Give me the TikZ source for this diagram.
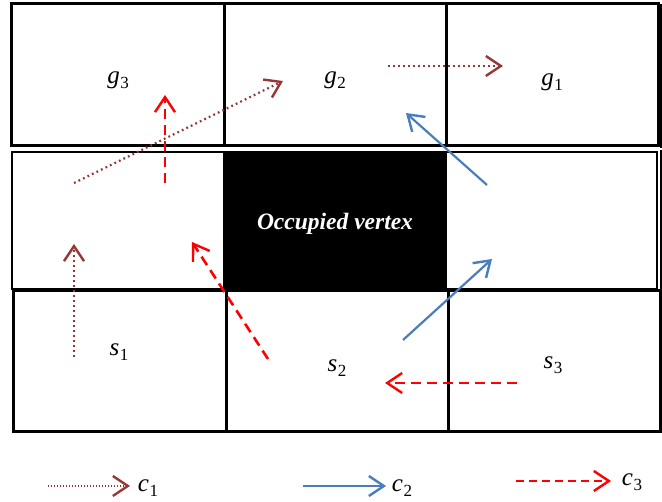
\documentclass[tikz,border=0pt]{standalone}
\usepackage{fontspec}
\setmainfont{Liberation Serif}
\usetikzlibrary{arrows.meta}
\definecolor{cbrown}{HTML}{953735}
\definecolor{cblue}{HTML}{4A7EBB}
\definecolor{cred}{HTML}{FF0000}
\newcommand{\lab}[2]{{\fontsize{25}{28}\selectfont\itshape #1}\kern0.5pt\raisebox{-5pt}{\fontsize{17}{20}\selectfont #2}}
\tikzset{
  grid/.style={draw=black, line width=3pt},
  lbl/.style={inner sep=0pt},
  tip/.style={-{Straight Barb[length=15pt,width=20pt,line width=2.4pt]}},
  cone/.style={tip, draw=cbrown, line width=2.2pt, dash pattern=on 1.8pt off 3.2pt},
  ctwo/.style={tip, draw=cblue, line width=2.2pt},
  cthree/.style={tip, draw=cred, line width=2.6pt, dash pattern=on 10pt off 6pt},
}
\begin{document}
\begin{tikzpicture}[x=1pt,y=-1pt]
\useasboundingbox[fill=white] (0,0) rectangle (662,502);
% rows
\draw[grid] (11,4) rectangle (658,146);
\draw[grid] (224,4) -- (224,146);
\draw[grid] (446,4) -- (446,146);
\draw[line width=3pt] (661,4) -- (661,148);
\draw[grid, line width=2pt] (12,152) rectangle (657,289);
\fill[black] (223,152) rectangle (447,289);
\draw[line width=3pt] (661,150) -- (661,291);
\draw[grid] (13,291) rectangle (660,432);
\draw[grid] (226,291) -- (226,432);
\draw[grid] (448,291) -- (448,432);
% labels
\node[lbl] (g3) at (118,80) {\lab{g}{3}};
\node[lbl] (g2) at (335,80) {\lab{g}{2}};
\node[lbl] (g1) at (552,82) {\lab{g}{1}};
\node[lbl] (s1) at (119,352) {\lab{s}{1}};
\node[lbl] (s2) at (337,368) {\lab{s}{2}};
\node[lbl] (s3) at (553,365) {\lab{s}{3}};
\node[text=white, font=\fontsize{23.5}{28}\selectfont\bfseries\itshape, inner sep=0pt] (occ) at (335,224) {Occupied vertex};
% c1 arrows
\coordinate (a1s) at (74,357); \coordinate (a1e) at (74,244);
\coordinate (a2s) at (74,183); \coordinate (a2e) at (283,81);
\coordinate (a3s) at (388,66); \coordinate (a3e) at (503,66);
\draw[cone] (a1s) -- (a1e);
\draw[cone] (a2s) -- (a2e);
\draw[cone] (a3s) -- (a3e);
% c2 arrows
\coordinate (b1s) at (487,185); \coordinate (b1e) at (406,113);
\coordinate (b2s) at (403,340); \coordinate (b2e) at (492,259);
\draw[ctwo] (b1s) -- (b1e);
\draw[ctwo] (b2s) -- (b2e);
% c3 arrows
\coordinate (r1s) at (165,183); \coordinate (r1e) at (165,95);
\coordinate (r2s) at (268,359); \coordinate (r2e) at (192,242);
\coordinate (r3s) at (517,383); \coordinate (r3e) at (385,383);
\draw[cthree] (r1s) -- (r1e);
\draw[cthree] (r2s) -- (r2e);
\draw[cthree] (r3s) -- (r3e);
% legend
\coordinate (l1s) at (48,486); \coordinate (l1e) at (130,486);
\coordinate (l2s) at (303,486); \coordinate (l2e) at (386,486);
\coordinate (l3s) at (516,481); \coordinate (l3e) at (611,481);
\draw[cone, line width=1.6pt, dash pattern=on 1.2pt off 1.8pt] (l1s) -- (l1e);
\draw[ctwo] (l2s) -- (l2e);
\draw[cthree, dash pattern=on 8pt off 5pt] (l3s) -- (l3e);
\node[lbl] (c1) at (148,488) {\lab{c}{1}};
\node[lbl] (c2) at (402,488) {\lab{c}{2}};
\node[lbl] (c3) at (632,482) {\lab{c}{3}};
\end{tikzpicture}
\end{document}
